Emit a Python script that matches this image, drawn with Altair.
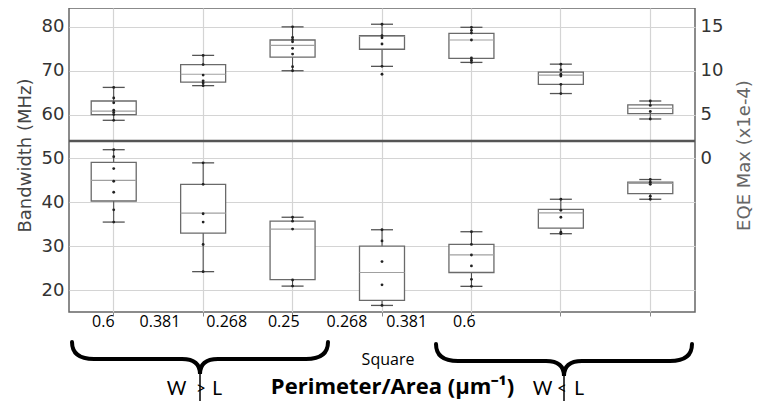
import altair as alt
import pandas as pd

# ---------------- data ----------------
categories = ["0.6 (W>L)", "0.381 (W>L)", "0.268 (W>L)", "0.25 (Square)",
              "0.268 (W<L)", "0.381 (W<L)", "0.6 (W<L)"]
x_tick_labels = ["0.6", "0.381", "0.268", "0.25", "0.268", "0.381", "0.6"]

# Bandwidth (MHz) - lower boxes, left axis
bw_low = [35.5, 24.2, 20.9, 16.5, 20.85, 32.85, 40.7]
bw_q1 = [40.3, 33.0, 22.4, 17.65, 24.0, 34.1, 42.0]
bw_med = [45.0, 37.55, 33.9, 24.0, 28.0, 37.6, 44.3]
bw_q3 = [49.1, 44.1, 35.7, 30.0, 30.4, 38.4, 44.6]
bw_high = [52.0, 49.0, 36.6, 33.75, 33.3, 40.7, 45.2]
bw_points = [
    [52.0, 50.4, 47.7, 44.8, 42.3, 38.3, 35.5],
    [49.0, 44.1, 37.4, 35.5, 30.4, 24.2],
    [36.6, 35.7, 33.9, 22.3, 20.9],
    [33.75, 31.2, 26.5, 21.2, 16.5],
    [33.3, 30.4, 28.0, 25.5, 22.45, 20.85],
    [40.7, 38.2, 36.6, 33.2, 32.85],
    [45.2, 44.6, 44.1, 41.4, 40.7],
]

# EQE Max (x1e-4) - upper boxes, right axis
eqe_low = [4.35, 8.3, 10.0, 10.5, 10.95, 7.4, 4.5]
eqe_q1 = [5.0, 8.7, 11.55, 12.45, 11.4, 8.45, 5.1]
eqe_med = [5.4, 9.6, 12.9, 13.9, 13.5, 9.5, 5.7]
eqe_q3 = [6.55, 10.7, 13.5, 14.0, 14.25, 9.85, 6.1]
eqe_high = [8.1, 11.75, 15.0, 15.3, 14.95, 10.75, 6.55]
eqe_points = [
    [8.1, 6.9, 6.35, 5.5, 5.25, 5.0, 4.35],
    [11.75, 10.7, 9.5, 8.85, 8.6, 8.3],
    [15.0, 13.8, 13.55, 13.3, 12.55, 11.9, 10.45, 10.0],
    [15.3, 14.0, 13.75, 13.05, 10.5, 9.6],
    [14.95, 14.6, 14.3, 13.5, 11.45, 11.2, 10.95],
    [10.75, 10.1, 9.6, 9.4, 8.45, 7.4],
    [6.55, 6.05, 5.35, 4.5],
]

bw_ticks = [20, 30, 40, 50, 60, 70, 80]
eqe_ticks = [0, 5, 10, 15]
separator_bw = 54

# ---------------- tables ----------------
def stats_table(lo, q1, med, q3, hi):
    return pd.DataFrame({"cat": categories, "low": lo, "q1": q1,
                         "med": med, "q3": q3, "high": hi})

def points_table(groups):
    return pd.DataFrame([{"cat": c, "v": v}
                         for c, vals in zip(categories, groups) for v in vals])

bw_df = stats_table(bw_low, bw_q1, bw_med, bw_q3, bw_high)
eqe_df = stats_table(eqe_low, eqe_q1, eqe_med, eqe_q3, eqe_high)
bw_pts = points_table(bw_points)
eqe_pts = points_table(eqe_points)

W, H = 626, 304
OX, OY = 69, 8  # page position of the plot origin

x_enc = alt.X(
    "cat:N", sort=categories,
    scale=alt.Scale(domain=categories, paddingInner=0, paddingOuter=0),
    axis=alt.Axis(title=None, labels=False, ticks=True, tickSize=4,
                  tickColor="#888", domain=False, grid=True,
                  gridColor="#d4d4d4", gridWidth=1.2),
)

left_scale = alt.Scale(domain=[15, 84.3], nice=False, zero=False)
right_scale = alt.Scale(domain=[-17.5, 17.15], nice=False, zero=False)

left_axis = alt.Axis(
    values=bw_ticks, title="Bandwidth (MHz)", grid=True, gridColor="#d4d4d4",
    gridWidth=1.2, ticks=False, tickSize=0, domain=False, labelPadding=5,
    labelFont="DejaVu Sans", labelFontSize=18, labelColor="#333",
    titleFont="DejaVu Sans", titleFontSize=18, titleFontWeight="normal",
    titleColor="#444", titleAngle=270, titleX=-44, titleY=147,
    titleAlign="center", titleBaseline="middle",
)
right_axis = alt.Axis(
    orient="right", values=eqe_ticks, title="EQE Max (x1e-4)", grid=False,
    ticks=False, tickSize=0, domain=False, labelPadding=5,
    labelFont="DejaVu Sans", labelFontSize=18, labelColor="#333",
    titleFont="DejaVu Sans", titleFontSize=18, titleFontWeight="normal",
    titleColor="#666", titleAngle=270, titleX=49, titleY=147,
    titleAlign="center", titleBaseline="middle",
)


def box_group(df, pts, scale, axis, extra=()):
    def Y(field):
        return alt.Y(field, type="quantitative", scale=scale, axis=axis)
    base = alt.Chart(df).encode(x=x_enc)
    whisk = base.mark_rule(color="#444", strokeWidth=1).encode(y=Y("low"), y2="high:Q")
    box = base.mark_bar(size=45, fill="white", stroke="#6a6a6a",
                        strokeWidth=1.3).encode(y=Y("q1"), y2="q3:Q")
    med = base.mark_tick(size=45, thickness=1.2, color="#a0a0a0",
                         opacity=1).encode(y=Y("med"))
    cap_lo = base.mark_tick(size=22, thickness=1.3, color="#555",
                            opacity=1).encode(y=Y("low"))
    cap_hi = base.mark_tick(size=22, thickness=1.3, color="#555",
                            opacity=1).encode(y=Y("high"))
    dots = alt.Chart(pts).mark_circle(size=8, color="#222", opacity=1).encode(
        x=x_enc, y=Y("v"))
    layers = [whisk, box, med, cap_lo, cap_hi, dots]
    layers += [e(Y) for e in extra]
    return alt.layer(*layers)


sep_df = pd.DataFrame({"v": [separator_bw]})

def separator(Y):
    return alt.Chart(sep_df).mark_rule(color="#555", strokeWidth=2.5).encode(y=Y("v"))

left_group = box_group(bw_df, bw_pts, left_scale, left_axis, extra=[separator])
right_group = box_group(eqe_df, eqe_pts, right_scale, right_axis)

dummy = pd.DataFrame({"a": [0]})

def note(text, px, py, size=16, weight="normal", font="Open Sans", align="center"):
    return alt.Chart(dummy).mark_text(
        text=text, font=font, fontSize=size, fontWeight=weight, color="black",
        align=align, baseline="alphabetic").encode(
        x=alt.value(px - OX), y=alt.value(py - OY))

label_px = [103.3, 160, 226.7, 283.8, 347, 406.7, 464.3]
notes = [note(t, x, 327, size=16) for t, x in zip(x_tick_labels, label_px)]
notes += [
    note("Square", 388, 365, size=16),
    note("Perimeter/Area (\u00b5m\u207b\u00b9)", 392.5, 394, size=22, weight="bold"),
    note("W", 176.5, 395, size=19, font="Lato"), note("L", 217, 395, size=19, font="Lato"),
    note(">", 201, 394, size=17, font="Lato"),
    note("W", 542.5, 395, size=19, font="Lato"), note("L", 579, 395, size=19, font="Lato"),
    note("<", 562, 394, size=17, font="Lato"),
]

# curly brace outline, in pixels around its centre (scaled into symbol units)
S = 128.0
brace_px = [("M", -128, -17), ("C", -128, -6, -121, 0, -106, 0), ("L", -18, 0),
            ("C", -6, 0, 0, 5, 0, 15), ("C", 0, 5, 6, 0, 18, 0), ("L", 106, 0),
            ("C", 121, 0, 128, -6, 128, -17)]
brace_path = " ".join(
    c[0] + " " + " ".join(f"{v / S:.4f}" for v in c[1:]) for c in brace_px)

def brace(px, py):
    b = alt.Chart(dummy).mark_point(
        shape=brace_path, filled=False, stroke="black", strokeWidth=4,
        size=(2 * S) ** 2, opacity=1, strokeCap="round").encode(
        x=alt.value(px - OX), y=alt.value(py - OY))
    stem = alt.Chart(dummy).mark_rule(color="black", strokeWidth=1.5).encode(
        x=alt.value(px - OX), y=alt.value(py + 14 - OY), y2=alt.value(py + 49 - OY))
    return [b, stem]

annotations = brace(200, 359) + brace(564, 361) + notes

chart = alt.layer(left_group, right_group, *annotations).resolve_scale(
    y="independent"
).properties(
    width=W, height=H,
    autosize=alt.AutoSizeParams(type="none"),
    padding={"left": 61, "top": 0, "right": 59, "bottom": 89},
    background="white",
).configure_view(stroke="#666", strokeWidth=1.5)

chart.save("out.html", embed_options={"renderer": "svg", "actions": False})
